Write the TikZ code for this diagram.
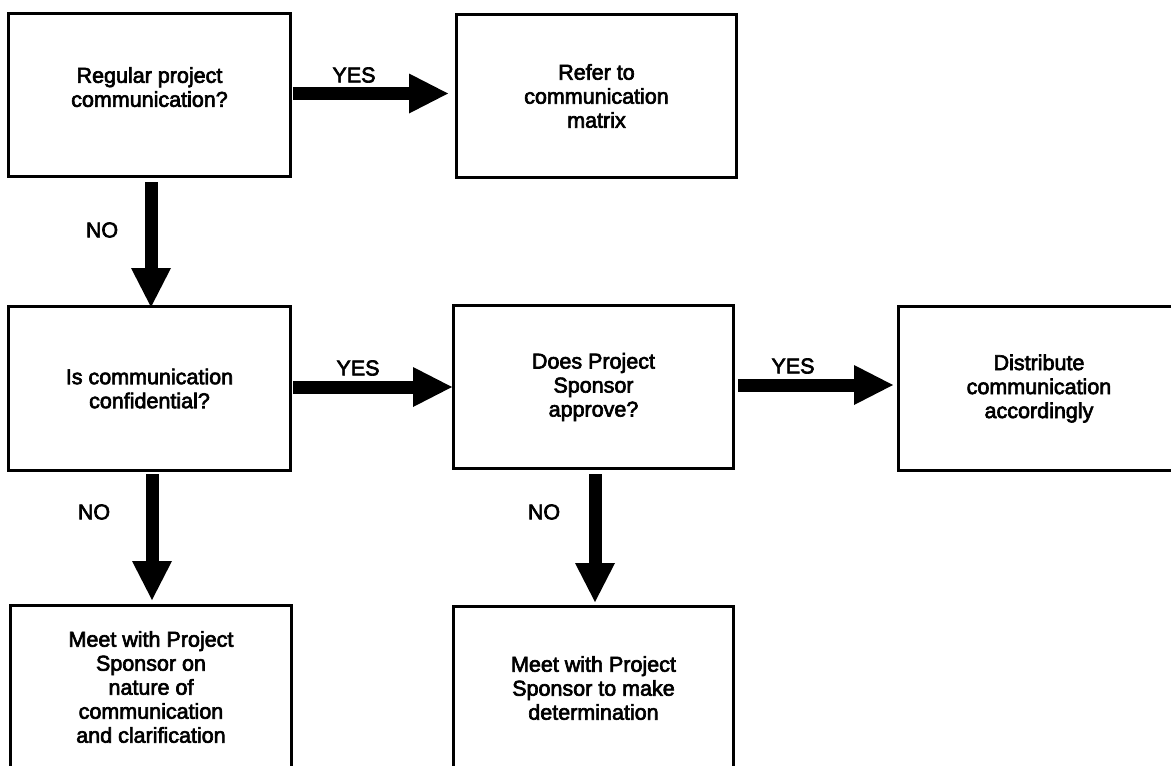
\documentclass[tikz,border=0pt]{standalone}
\usepackage{fontspec}
\usetikzlibrary{arrows.meta,calc}
\newfontfamily\diafont{Liberation Sans}[FakeBold=3]

\tikzset{
  stepbox/.style={draw=black, line width=3pt, fill=white, rectangle,
    minimum width=281pt, minimum height=163pt, inner sep=0pt,
    align=center, font=\diafont\fontsize{21.5}{24}\selectfont, text=black},
  flowarrow/.style={line width=13pt, black,
    -{Triangle[width=40pt, length=39pt, line width=0pt]}},
  answer/.style={font=\diafont\fontsize{21.5}{24}\selectfont, text=black, inner sep=0pt}
}

\begin{document}
\begin{tikzpicture}[x=1pt, y=-1pt]
  \useasboundingbox (0,0) rectangle (1171,766);
  \clip (0,0) rectangle (1171,766);

  % process and decision boxes
  \node[stepbox, minimum width=282pt, text depth=16pt] (regular) at (149.5,95)
    {Regular project\\communication?};
  \node[stepbox, minimum width=280pt] (matrix) at (596.5,96)
    {Refer to\\communication\\matrix};
  \node[stepbox, minimum width=282pt, minimum height=164pt] (confidential) at (149.5,388.5)
    {Is communication\\confidential?};
  \node[stepbox, minimum width=280pt] (approve) at (593.5,387)
    {Does Project\\Sponsor\\approve?};
  \node[stepbox, minimum height=164pt] (distribute) at (1039,388.5)
    {Distribute\\communication\\accordingly};
  \node[stepbox] (clarify) at (151,687)
    {Meet with Project\\Sponsor on\\nature of\\communication\\and clarification};
  \node[stepbox, minimum width=280pt] (determine) at (593.5,688)
    {Meet with Project\\Sponsor to make\\determination};

  % block arrows between the boxes
  \draw[flowarrow, shorten <=1pt, shorten >=7pt]
    ([yshift=1.5pt]regular.east) -- ([yshift=1.5pt]regular.east -| matrix.west);
  \draw[flowarrow, shorten <=1pt]
    ([yshift=1.5pt]confidential.east) -- ([yshift=1.5pt]confidential.east -| approve.west);
  \draw[flowarrow, shorten <=3pt, shorten >=4pt]
    ([yshift=2pt]approve.east) -- ([yshift=2pt]approve.east -| distribute.west);
  \draw[flowarrow, shorten <=4pt, shorten >=-2pt]
    ([xshift=1.5pt]regular.south) -- ([xshift=1.5pt]regular.south |- confidential.north);
  \draw[flowarrow, shorten <=2pt, shorten >=4pt]
    ([xshift=2.5pt]confidential.south) -- ([xshift=2.5pt]confidential.south |- clarify.north);
  \draw[flowarrow, shorten <=4pt, shorten >=3pt]
    ([xshift=1.5pt]approve.south) -- ([xshift=1.5pt]approve.south |- determine.north);

  % branch labels
  \node[answer] (yes1) at (354,75) {YES};
  \node[answer] (yes2) at (358,368) {YES};
  \node[answer] (yes3) at (793,366) {YES};
  \node[answer] (no1) at (102,230) {NO};
  \node[answer] (no2) at (94,512) {NO};
  \node[answer] (no3) at (544,512) {NO};
\end{tikzpicture}
\end{document}
